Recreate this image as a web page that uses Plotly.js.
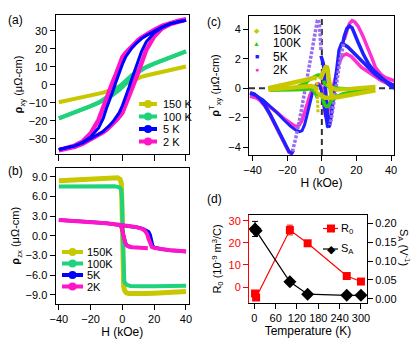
<!DOCTYPE html>
<html>
<head>
<meta charset="utf-8">
<script src="https://cdn.plot.ly/plotly-3.0.1.min.js"></script>
<style>
  html, body { margin: 0; padding: 0; background: #fff; }
  #graph { width: 415px; height: 346px; }
</style>
</head>
<body>
<div id="graph"></div>
<script>
var W = 415, H = 346;
// pixel -> paper helpers (margins are zero)
function px(x) { return x / W; }
function py(y) { return 1 - y / H; }

// legend labels / colours
var tempsA = ['150 K', '100 K', '5 K', '2 K'];
var tempsB = ['150K', '100K', '5K', '2K'];
var colA = ['#c8c800', '#1fd27c', '#0000ff', '#ff14c8'];
var colC = ['#c8c800', '#2ecc10', '#2020ff', '#ff30d0'];
var symC = ['\u25C6', '\u25B2', '\u25A0', '\u25CF'];

// ---- (a) rho_xy vs H ----
var aH = [-40,-35,-30,-25,-20,-15,-12,-10,-8,-6,-4,-2,0,2,4,6,8,10,12,15,20,25,30,35,40];
var a150 = [-9.7,-8.8,-7.9,-7.0,-6.1,-5.0,-4.3,-3.7,-3.1,-2.4,-1.6,-0.8,0,0.8,1.6,2.4,3.1,3.8,4.4,5.2,6.3,7.3,8.3,9.3,10.2];
var a100Down = [-18.6,-17.0,-15.3,-13.6,-11.8,-9.9,-8.35,-7.0,-5.8,-4.3,-2.7,-0.8,1.2,2.8,4.3,5.5,6.6,7.6,8.65,9.9,11.8,13.6,15.3,17.0,18.6];
var a100Up = [-18.6,-17.0,-15.3,-13.6,-11.8,-9.9,-8.65,-7.6,-6.6,-5.5,-4.3,-2.8,-1.2,0.8,2.7,4.3,5.8,7.0,8.35,9.9,11.8,13.6,15.3,17.0,18.6];
var a5Up = [-36,-35.2,-34,-32.3,-30,-27.5,-25.8,-24.3,-22.5,-20.6,-18.2,-15.5,-11.5,-7,-1.8,3.5,8.5,13,18.5,24,29,32,34,35.2,36];
var a5Down = [-36,-35.2,-34,-32,-29,-24,-18.5,-13,-8.5,-3.5,1.8,7,11.5,15.5,18.2,20.6,22.5,24.3,25.8,27.5,30,32.3,34,35.2,36];
var a2Up = [-36.5,-35.6,-34.5,-32.8,-30.5,-28,-26.3,-25,-23.5,-21.8,-19.8,-17.8,-15.5,-11,-6,-1.8,2.5,7,12,19.5,27,31.5,33.8,35.2,36.3];
var a2Down = [-36.3,-35.2,-33.8,-31.5,-27,-19.5,-12,-7,-2.5,1.8,6,11,15.5,17.8,19.8,21.8,23.5,25,26.3,28,30.5,32.8,34.5,35.6,36.5];

// ---- (b) rho_zx vs H ----
var b150H = [-40,-35,-30,-25,-20,-15,-10,-6,-3,-1.5,-0.7,-0.2,0.3,0.8,1.5,2.5,4,7,10,15,20,25,30,35,40];
var b150 = [8.4,8.45,8.5,8.55,8.65,8.75,8.8,8.9,8.85,8.6,8.0,4.0,-4,-7.8,-8.4,-8.7,-8.8,-8.85,-8.8,-8.8,-8.75,-8.7,-8.6,-8.55,-8.5];
var b100H = [-40,-30,-20,-10,-5,-3,-1.5,-0.8,-0.3,0.2,0.5,0.8,1.2,2,3,5,8,12,20,30,40];
var b100 = [7.5,7.55,7.6,7.6,7.55,7.45,7.3,7.0,6.0,0,-5.5,-6.5,-7.0,-7.3,-7.5,-7.65,-7.7,-7.7,-7.7,-7.65,-7.6];
var b5H = [-40,-30,-20,-10,0,5,10,13,15,16.5,17.5,18.3,19,20,22,25,30,40];
var b5 = [2.4,2.3,2.1,1.9,1.6,1.45,1.25,1.05,0.85,0.6,0.1,-0.8,-1.5,-1.8,-1.95,-2.05,-2.2,-2.4];
var b5InH = [-3,-1.5,-0.5,0.3,1,1.8,2.8,4,6];
var b5In = [1.75,1.6,1.3,0.5,-0.3,-1.0,-1.45,-1.65,-1.75];
var b2H = [-40,-35,-30,-25,-20,-15,-10,-5,0,5,8,10,12,14,15.5,16.5,17.5,18.5,20,22,25,30,35,40];
var b2 = [2.4,2.35,2.3,2.2,2.1,2.0,1.9,1.8,1.6,1.45,1.35,1.25,1.1,0.8,0.3,-0.5,-1.3,-1.7,-1.85,-1.95,-2.05,-2.2,-2.3,-2.4];
var b2InH = [-3,-1.5,-0.5,0.3,1,1.8,2.8,4,6,9,12,16];
var b2In = [1.75,1.6,1.2,0.3,-0.5,-1.1,-1.5,-1.65,-1.75,-1.8,-1.85,-1.9];

// ---- (c) rho^T_xy vs H ----
var cY1H = [-31,-25,-20,-15,-10,-6,-4,-2.8];
var cY1 = [0.0,0.15,0.3,0.4,0.5,0.6,0.7,0.65];
var cY2H = [-31,-25,-20,-15,-10,-6,-4,-3];
var cY2 = [-0.1,-0.05,0.0,0.05,0.1,0.15,0.05,-0.2];
var cY3H = [-2.8,-2.6,-2.5,-2.4,-2.3,-2.2];
var cY3 = [0.4,-0.2,-0.7,-1.1,-1.5,-1.75];
var cY4H = [-1,0,1,2,2.8,3.3,3.8,4.5,5.5,7];
var cY4 = [0.6,0.9,1.2,1.4,1.5,1.3,0.8,0.0,-0.45,-0.6];
var cY5H = [-2,0,2,4,6,9,12,16,20,25,31];
var cY5 = [-0.4,-0.55,-0.65,-0.65,-0.65,-0.62,-0.55,-0.45,-0.35,-0.25,-0.15];
var cY6H = [3,5,8,12,16,20,25,31];
var cY6 = [0.3,0.05,-0.1,-0.1,-0.05,0,0.05,0.1];

var cG1H = [-30,-25,-20,-15,-10,-7,-5,-3,-1.8,-0.8];
var cG1 = [-0.05,-0.05,0.0,0.05,0.3,0.6,0.75,0.85,0.9,0.8];
var cG2H = [-30,-25,-20,-15,-10,-7,-5,-3.5,-2.5];
var cG2 = [-0.15,-0.15,-0.15,-0.15,-0.1,-0.05,-0.15,-0.4,-0.7];
var cG3H = [-0.5,0.5,1.5,2.5,3.5,4.5,6,8,12,16,20,25,30];
var cG3 = [-0.3,-0.8,-1.1,-1.25,-1.25,-1.05,-0.8,-0.6,-0.4,-0.3,-0.22,-0.15,-0.1];
var cG4H = [1,2,4,6,10,15,20,25,30];
var cG4 = [0.5,0.25,0.1,0.05,0.0,-0.05,-0.05,-0.05,-0.05];

var cB1H = [-41.5,-39,-36,-33,-30,-27,-24,-21,-19,-17.5,-16.5];
var cB1 = [-0.3,-0.4,-0.7,-1.15,-1.75,-2.45,-3.2,-3.9,-4.3,-4.4,-4.2];
var cB2H = [-41.5,-38,-34,-30,-26,-22,-18,-15,-13,-11.5,-10,-8.5,-7,-5.5,-4,-3,-2,-1,0,1,1.8,2.5,3.2,3.8];
var cB2 = [-0.35,-0.5,-0.8,-1.2,-1.65,-2.15,-2.6,-2.85,-2.95,-2.9,-2.5,-1.8,-1.0,-0.35,0.05,0.2,0.25,0.1,-0.3,-1.0,-1.7,-2.3,-2.6,-2.65];
var cB3H = [-0.5,0.2,0.8,1.3,1.8,2.3,2.8,3.3,3.8,4.4,5,6,7,8,9,10,11.3,13,15,18,21,24,27,30.6,34,37,40.2,42];
var cB3 = [2.2,2.0,1.7,1.2,0.4,-0.6,-1.6,-2.3,-2.65,-2.55,-2.2,-1.3,-0.3,0.8,1.8,2.6,3.0,2.95,2.8,2.45,2.1,1.75,1.35,0.96,0.65,0.45,0.28,0.2];
var cB4H = [42,39,36.5,33,30,27,24,21,19,17.5,16,14.5,13,12];
var cB4 = [0.0,0.2,0.5,0.85,1.2,1.65,2.3,3.1,3.7,4.1,4.22,4.05,3.55,3.0];

var cM1H = [-41.5,-39,-36,-33,-30,-27,-24,-21,-19,-17.5,-16.5];
var cM1 = [-0.5,-0.55,-0.8,-1.2,-1.8,-2.5,-3.25,-3.95,-4.35,-4.45,-4.25];
var cM2H = [-41.5,-38,-34,-30,-26,-22,-18,-16,-14.4,-13,-11.5,-10,-8.5,-7,-5.5,-4,-3,-2,-1,0,0.7,1.3,2,2.3,3,4,5.5,7,8.5,10,12,14.2,17,20,22.9,25,28,31,34.4,38,42];
var cM2 = [-0.55,-0.65,-0.9,-1.25,-1.65,-2.05,-2.4,-2.55,-2.6,-2.5,-2.2,-1.7,-1.1,-0.5,-0.1,0.1,0.25,0.3,0.2,0.0,-0.5,-1.2,-1.8,-1.95,-1.85,-1.4,-0.6,0.3,1.1,1.75,2.2,2.32,2.15,1.75,1.41,1.25,1.0,0.75,0.5,0.3,0.16];
var cM3H = [42,39,36.5,34,31,28.7,26,23.5,21,19,17.5,16,14.5,13];
var cM3 = [0.5,0.6,0.73,0.95,1.4,2.1,2.9,3.6,4.2,4.5,4.58,4.4,3.9,3.3];

// steep jumps drawn as chains of open markers
var cJ1H = [-17,-16,-15,-14,-13,-12,-11,-10,-9,-8,-7,-6,-5,-4,-3.2,-2.6,-2,-1.4,-0.9,-0.5];
var cJ1 = [-4.3,-3.9,-3.35,-2.8,-2.3,-1.6,-0.95,-0.3,0.35,0.95,1.6,2.3,3.0,3.6,4.2,4.6,4.65,4.3,3.5,2.5];
var cJ2H = [12.5,11.5,10.5,9.5,8.5,7.5,6.5,5.5,4.5];
var cJ2 = [3.0,2.5,1.9,1.1,0.3,-0.6,-1.5,-2.1,-2.5];

// ---- (d) fit parameters vs temperature ----
var dT = [2, 5, 100, 150, 260, 300];
var dR0 = [-2.9, -4.7, 25.8, 19.8, 5.0, 2.5];
var dR0Err = [0.8, 0.8, 2.2, 1.2, 0.6, 0.6];
var dSA = [0.185, 0.18, 0.045, 0.012, 0.009, 0.009];
var dSAErr = [0.02, 0.01, 0.004, 0.003, 0.003, 0.003];

function ln(x, y, xa, ya, color, width, dash) {
  return {x: x, y: y, xaxis: xa, yaxis: ya, type: 'scatter', mode: 'lines',
          line: {color: color, width: width, dash: dash || 'solid'},
          hoverinfo: 'skip', showlegend: false};
}

var data = [
  // (a)
  ln(aH, a150, 'x', 'y', colA[0], 4),
  ln(aH, a100Down, 'x', 'y', colA[1], 4),
  ln(aH, a100Up, 'x', 'y', colA[1], 4),
  ln(aH, a2Down, 'x', 'y', colA[3], 4.5),
  ln(aH, a2Up, 'x', 'y', colA[3], 4.5),
  ln(aH, a5Down, 'x', 'y', colA[2], 3),
  ln(aH, a5Up, 'x', 'y', colA[2], 3),
  // (b)
  ln(b150H, b150, 'x2', 'y2', colA[0], 5),
  ln(b100H, b100, 'x2', 'y2', colA[1], 4),
  ln(b5H, b5, 'x2', 'y2', colA[2], 3.5),
  ln(b5InH, b5In, 'x2', 'y2', colA[2], 3.5),
  ln(b2H, b2, 'x2', 'y2', colA[3], 4),
  ln(b2InH, b2In, 'x2', 'y2', colA[3], 4),
  // (c)
  ln(cM1H, cM1, 'x3', 'y3', colC[3], 3.5),
  ln(cM2H, cM2, 'x3', 'y3', colC[3], 3.5),
  ln(cM3H, cM3, 'x3', 'y3', colC[3], 3.5),
  ln(cB1H, cB1, 'x3', 'y3', colC[2], 3.5),
  ln(cB2H, cB2, 'x3', 'y3', colC[2], 3),
  ln(cB3H, cB3, 'x3', 'y3', colC[2], 3.5),
  ln(cB4H, cB4, 'x3', 'y3', colC[2], 3.5),
  ln(cJ1H, cJ1, 'x3', 'y3', '#9a6cf0', 3.5, '3px,1.5px'),
  ln(cJ2H, cJ2, 'x3', 'y3', '#9a6cf0', 3.5, '3px,1.5px'),
  ln(cG1H, cG1, 'x3', 'y3', colC[1], 3.5),
  ln(cG2H, cG2, 'x3', 'y3', colC[1], 3.5),
  ln(cG3H, cG3, 'x3', 'y3', colC[1], 3.5),
  ln(cG4H, cG4, 'x3', 'y3', colC[1], 3.5),
  ln(cY1H, cY1, 'x3', 'y3', colC[0], 4.5),
  ln(cY2H, cY2, 'x3', 'y3', colC[0], 4.5),
  ln(cY3H, cY3, 'x3', 'y3', colC[0], 3, '3px,1.5px'),
  ln(cY4H, cY4, 'x3', 'y3', colC[0], 4.5),
  ln(cY5H, cY5, 'x3', 'y3', colC[0], 4.5),
  ln(cY6H, cY6, 'x3', 'y3', colC[0], 4),
  // (d)
  {x: dT, y: dR0, xaxis: 'x4', yaxis: 'y4', type: 'scatter', mode: 'lines+markers',
   line: {color: '#ff0000', width: 1.2}, marker: {symbol: 'square', size: 8, color: '#ff0000'},
   error_y: {type: 'data', array: dR0Err, color: '#ff0000', thickness: 1, width: 3},
   showlegend: false, hoverinfo: 'skip'},
  {x: dT, y: dSA, xaxis: 'x4', yaxis: 'y5', type: 'scatter', mode: 'lines+markers',
   line: {color: '#000000', width: 1.2}, marker: {symbol: 'diamond', size: 10, color: '#000000'},
   error_y: {type: 'data', array: dSAErr, color: '#000000', thickness: 1, width: 3},
   showlegend: false, hoverinfo: 'skip'}
];

var font = {family: 'Liberation Sans, Arial, sans-serif', size: 11, color: '#000'};

function ax(extra) {
  var base = {showline: true, linecolor: '#000', linewidth: 1, mirror: true,
              ticks: 'outside', ticklen: 5, tickwidth: 1, tickcolor: '#000',
              showgrid: false, zeroline: false, tickfont: font, fixedrange: true};
  for (var k in extra) base[k] = extra[k];
  return base;
}

var shapes = [
  {type: 'line', xref: 'x3', yref: 'y3 domain', x0: 0, x1: 0, y0: 0, y1: 1,
   line: {color: '#333', width: 2, dash: '6px,4px'}, layer: 'below'},
  {type: 'line', xref: 'x3 domain', yref: 'y3', x0: 0, x1: 1, y0: 0, y1: 0,
   line: {color: '#333', width: 2, dash: '6px,4px'}, layer: 'below'}
];
var ann = [];

function note(x, y, text, size, color, xanchor, angle) {
  ann.push({xref: 'paper', yref: 'paper', x: px(x), y: py(y), text: text, showarrow: false,
            xanchor: xanchor || 'left', yanchor: 'middle', textangle: angle || 0,
            font: {family: font.family, size: size, color: color || '#000'}});
}

// panel letters
note(6, 20, '(a)', 12);
note(6, 171, '(b)', 12);
note(205, 22, '(c)', 12);
note(205, 199, '(d)', 12);

// legend (a) and (b): thick line + dot
function lineKey(x0, x1, y, color, label, tx) {
  shapes.push({type: 'line', xref: 'paper', yref: 'paper', x0: px(x0), x1: px(x1), y0: py(y), y1: py(y),
               line: {color: color, width: 4}});
  var cx = (x0 + x1) / 2;
  shapes.push({type: 'circle', xref: 'paper', yref: 'paper', x0: px(cx - 4), x1: px(cx + 4),
               y0: py(y + 4), y1: py(y - 4), fillcolor: color, line: {color: color, width: 0}});
  note(tx, y, label, 11);
}
for (var i = 0; i < 4; i++) {
  lineKey(139, 157, 104 + 12.5 * i, colA[i], tempsA[i], 161);
  lineKey(62, 83, 252 + 11.5 * i, colA[i], tempsB[i], 85);
  note(256.5, 30 + 13.3 * i, symC[i], 7, colC[i], 'center');
  note(271, 30 + 13.3 * i, tempsB[i], 12);
}
// legend (d)
shapes.push({type: 'line', xref: 'paper', yref: 'paper', x0: px(323), x1: px(338), y0: py(228.5), y1: py(228.5),
             line: {color: '#ff0000', width: 1.2}});
shapes.push({type: 'rect', xref: 'paper', yref: 'paper', x0: px(327), x1: px(335), y0: py(232.5), y1: py(224.5),
             fillcolor: '#ff0000', line: {width: 0}});
note(339, 228.5, 'R<sub>0</sub>', 11);
shapes.push({type: 'line', xref: 'paper', yref: 'paper', x0: px(323), x1: px(338), y0: py(249), y1: py(249),
             line: {color: '#000', width: 1.2}});
note(331, 249, '\u25C6', 11, '#000', 'center');
note(339, 249, 'S<sub>A</sub>', 11);
// right axis title of (d)
note(404, 247, 'S<sub>A</sub> (V<sup>-1</sup>)', 11, '#000', 'center', 90);

var layout = {
  width: W, height: H,
  margin: {l: 0, r: 0, t: 0, b: 0},
  paper_bgcolor: '#fff', plot_bgcolor: '#fff',
  font: font, showlegend: false,
  xaxis: ax({domain: [px(55.5), px(189)], anchor: 'y', range: [-42.1, 41.9],
             tickvals: [-40, -20, 0, 20, 40], showticklabels: false, ticklen: 6}),
  yaxis: ax({domain: [py(154), py(15)], anchor: 'x', range: [-38.5, 38.9],
             tickvals: [-30, -20, -10, 0, 10, 20, 30],
             title: {text: '<b>\u03C1</b><sub>xy</sub> (\u03BC\u03A9-cm)', font: {size: 11}, standoff: 3}}),
  xaxis2: ax({domain: [px(55.5), px(189)], anchor: 'y2', range: [-42.1, 41.9],
              tickvals: [-40, -20, 0, 20, 40],
              title: {text: 'H (kOe)', font: {size: 12}, standoff: 2}}),
  yaxis2: ax({domain: [py(304), py(167.5)], anchor: 'x2', range: [-10.4, 10.4],
              tickvals: [-9, -6, -3, 0, 3, 6, 9], tickformat: '.1f',
              title: {text: '<b>\u03C1</b><sub>zx</sub> (\u03BC\u03A9-cm)', font: {size: 11}, standoff: 3}}),
  xaxis3: ax({domain: [px(249), px(394)], anchor: 'y3', range: [-42.1, 41.7],
              tickvals: [-40, -20, 0, 20, 40],
              title: {text: 'H (kOe)', font: {size: 12}, standoff: 2}}),
  yaxis3: ax({domain: [py(155), py(16)], anchor: 'x3', range: [-4.54, 4.9],
              tickvals: [-4, -2, 0, 2, 4],
              title: {text: '<b>\u03C1</b><sup>T</sup><sub>xy</sub> (\u03BC\u03A9-cm)', font: {size: 11}, standoff: 6}}),
  xaxis4: ax({domain: [px(249), px(367)], anchor: 'y4', range: [-15, 317],
              tickvals: [0, 60, 120, 180, 240, 300],
              title: {text: 'Temperature (K)', font: {size: 12}, standoff: 2}}),
  yaxis4: ax({domain: [py(303), py(215)], anchor: 'x4', range: [-7.2, 32.6], mirror: false,
              tickvals: [0, 10, 20, 30], linecolor: '#ff0000', tickcolor: '#ff0000',
              tickfont: {family: font.family, size: 11, color: '#ff0000'},
              title: {text: 'R<sub>0</sub> (10<sup>-9</sup> m<sup>3</sup>/C)', font: {size: 11, color: '#000'}, standoff: 4}}),
  yaxis5: ax({overlaying: 'y4', anchor: 'x4', side: 'right', range: [-0.0114, 0.222], mirror: false,
              tickvals: [0, 0.05, 0.1, 0.15, 0.2], tickformat: '.2f'}),
  shapes: shapes,
  annotations: ann
};

Plotly.newPlot('graph', data, layout, {displayModeBar: false});
</script>
</body>
</html>
